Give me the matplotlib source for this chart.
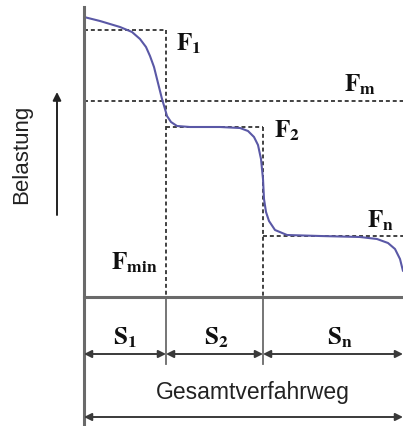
import matplotlib
matplotlib.use('Agg')
import matplotlib.pyplot as plt

plt.rcParams['mathtext.fontset'] = 'stix'

# Travel boundaries (S1, S2, Sn) and load levels
s_bounds = [0, 82, 179, 319]
f1, fm, f2, fn = 267, 196, 170, 61

# Load curve
curve_x = [0, 16, 36, 48, 56, 62, 66, 70, 73, 76, 78, 81, 83, 87, 93, 106, 136,
           156, 164, 170, 174, 177, 179, 180, 182, 185, 191, 203, 236, 276, 293,
           304, 311, 316, 319]
curve_y = [280, 276, 270, 265, 258, 250, 241, 230, 218, 206, 198, 188, 181, 175,
           171, 170, 170, 169, 166, 160, 152, 138, 118, 98, 85, 76, 67, 62, 61,
           60, 58, 54, 48, 38, 26]

axis_col = '#6a6a6a'
dash_col = '#333333'
dash = (0, (2.2, 1.6))

fig = plt.figure(figsize=(4.03, 4.27), dpi=100)
ax = fig.add_axes([0, 0, 1, 1])
ax.set_xlim(-84, 319)
ax.set_ylim(-129, 298)
ax.axis('off')

# dashed reference levels
ax.plot([s_bounds[0], s_bounds[1]], [f1, f1], color=dash_col, lw=1.3, ls=dash)
ax.plot([s_bounds[1], s_bounds[1]], [f1, 0], color=dash_col, lw=1.3, ls=dash)
ax.plot([s_bounds[0], s_bounds[3]], [fm, fm], color=dash_col, lw=1.3, ls=dash)
ax.plot([s_bounds[1], s_bounds[2]], [f2, f2], color=dash_col, lw=1.3, ls=dash)
ax.plot([s_bounds[2], s_bounds[2]], [f2, 0], color=dash_col, lw=1.3, ls=dash)
ax.plot([s_bounds[2], s_bounds[3]], [fn, fn], color=dash_col, lw=1.3, ls=dash)

# curve
ax.plot(curve_x, curve_y, color='#5a58a6', lw=1.5, solid_capstyle='round')

# axes
ax.plot([0, 0], [290, -129], color=axis_col, lw=2.2)
ax.plot([0, s_bounds[3]], [0, 0], color=axis_col, lw=2.2)
for s in s_bounds[1:3]:
    ax.plot([s, s], [0, -67], color=axis_col, lw=1.3)

# segment arrows
arr = dict(arrowstyle='<|-|>', color='#3a3a3a', lw=1.4, mutation_scale=11,
           shrinkA=0, shrinkB=0)
for a, b in zip(s_bounds[:-1], s_bounds[1:]):
    ax.annotate('', xy=(b, -57), xytext=(a, -57), arrowprops=arr)
ax.annotate('', xy=(s_bounds[3], -120), xytext=(s_bounds[0], -120), arrowprops=arr)

# load arrow
ax.annotate('', xy=(-27, 205), xytext=(-27, 82),
            arrowprops=dict(arrowstyle='-|>', color='#222222', lw=1.4,
                            mutation_scale=12, shrinkA=0, shrinkB=0))

lab = dict(fontsize=18, color='#111111', va='baseline')
ax.text(92, 247, r'$\mathbf{F}_\mathbf{1}$', ha='left', **lab)
ax.text(260, 206, r'$\mathbf{F}_\mathbf{m}$', ha='left', **lab)
ax.text(190, 160, r'$\mathbf{F}_\mathbf{2}$', ha='left', **lab)
ax.text(283, 70, r'$\mathbf{F}_\mathbf{n}$', ha='left', **lab)
ax.text(27, 28, r'$\mathbf{F}_\mathbf{min}$', ha='left', **lab)
ax.text(41, -47, r'$\mathbf{S}_\mathbf{1}$', ha='center', **lab)
ax.text(132, -47, r'$\mathbf{S}_\mathbf{2}$', ha='center', **lab)
ax.text(256, -47, r'$\mathbf{S}_\mathbf{n}$', ha='center', **lab)

ax.text(169, -95, 'Gesamtverfahrweg', ha='center', va='center',
        fontsize=16.5, family='Liberation Sans', color='#222222')
ax.text(-62, 144, 'Belastung', ha='center', va='center', rotation=90,
        fontsize=16, family='Liberation Sans', color='#222222')

fig.savefig('out.png', dpi=100)
